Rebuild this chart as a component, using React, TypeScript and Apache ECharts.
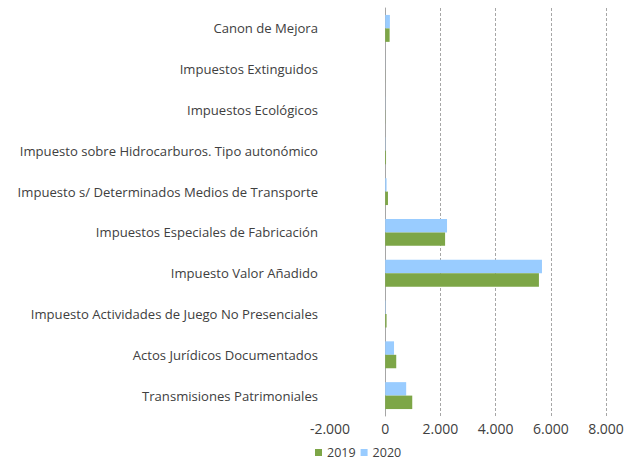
import React, { useEffect, useRef } from "react";
import * as echarts from "echarts";

const categories = [
  "Transmisiones Patrimoniales",
  "Actos Jurídicos Documentados",
  "Impuesto Actividades de Juego No Presenciales",
  "Impuesto Valor Añadido",
  "Impuestos Especiales de Fabricación",
  "Impuesto s/ Determinados Medios de Transporte",
  "Impuesto sobre Hidrocarburos. Tipo autonómico",
  "Impuestos Ecológicos",
  "Impuestos Extinguidos",
  "Canon de Mejora",
];
const values2019 = [980, 400, 50, 5570, 2170, 100, 30, 5, 2, 160];
const values2020 = [760, 320, 15, 5680, 2240, 50, 10, 5, 2, 170];
const seriesNames = ["2019", "2020"];
const xTicks = { min: -2000, max: 8000, interval: 2000 };

const fmt = (v: number) => {
  const s = Math.abs(v).toString().replace(/\B(?=(\d{3})+(?!\d))/g, ".");
  return (v < 0 ? "-" : "") + s;
};

export default function App() {
  const ref = useRef<HTMLDivElement>(null);
  useEffect(() => {
    if (!ref.current) return;
    const chart = echarts.init(ref.current, null, { renderer: "svg" });
    const font = "'Open Sans', Lato, sans-serif";
    chart.setOption({
      animation: false,
      textStyle: { fontFamily: font },
      grid: { left: 330, right: 23, top: 8, bottom: 48 },
      legend: {
        data: seriesNames,
        bottom: 0,
        left: 310,
        itemWidth: 7,
        itemHeight: 7,
        itemGap: 5,
        icon: "rect",
        textStyle: { color: "#404040", fontSize: 12.5, fontFamily: font },
      },
      xAxis: {
        type: "value",
        min: xTicks.min,
        max: xTicks.max,
        interval: xTicks.interval,
        axisLine: { show: false },
        axisTick: { show: false },
        axisLabel: {
          color: "#404040",
          fontSize: 14,
          fontFamily: font,
          margin: 5,
          formatter: (v: number) => fmt(v),
        },
        splitLine: {
          show: true,
          lineStyle: {
            type: [3, 2],
            width: 1,
            color: ["transparent", "#a6a6a6", "#a6a6a6", "#a6a6a6", "#a6a6a6", "#a6a6a6"],
          },
        },
      },
      yAxis: {
        type: "category",
        data: categories,
        axisLine: { show: true, onZero: true, lineStyle: { color: "#a6a6a6", width: 1 } },
        axisTick: { show: false },
        axisLabel: {
          color: "#404040",
          fontSize: 13.1,
          fontFamily: font,
          margin: 12,
        },
        splitLine: { show: false },
      },
      series: [
        {
          name: "2020",
          type: "bar",
          data: values2020,
          itemStyle: { color: "#99ccff" },
          barGap: "0%",
          barCategoryGap: "34%",
        },
        {
          name: "2019",
          type: "bar",
          data: values2019,
          itemStyle: { color: "#7da647" },
          barGap: "0%",
          barCategoryGap: "34%",
        },
      ],
    });
    return () => chart.dispose();
  }, []);
  return (
    <div
      ref={ref}
      style={{ position: "fixed", left: 0, top: 0, width: 629, height: 464, background: "#fff" }}
    />
  );
}
